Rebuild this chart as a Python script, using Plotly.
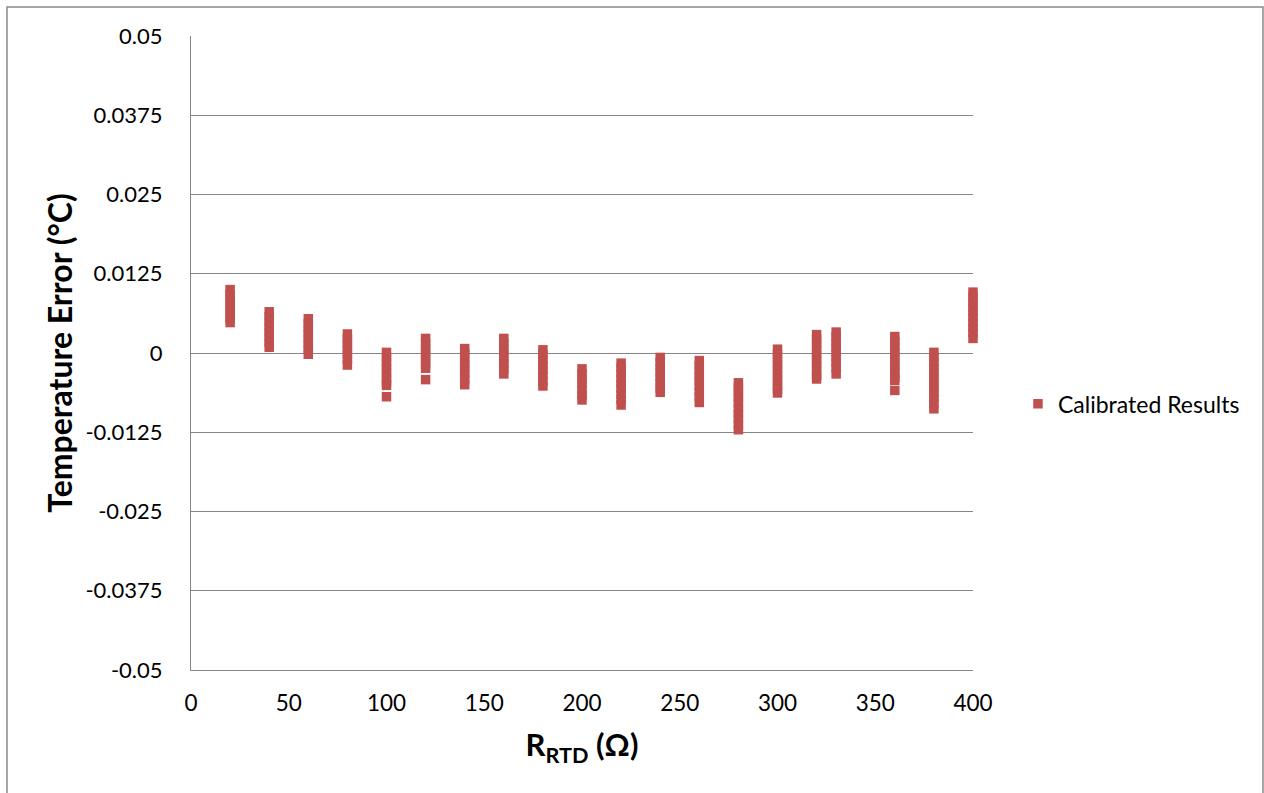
import plotly.graph_objects as go

# Calibrated results: temperature error (°C) per RTD resistance (Ω)
r_values = [20, 40, 60, 80, 100, 120, 140, 160, 180, 200, 220, 240, 260, 280, 300, 320, 330, 360, 380, 400]

err_20 = [0.0100, 0.0092, 0.0085, 0.0077, 0.0070, 0.0062, 0.0055, 0.0048]
err_40 = [0.0065, 0.0057, 0.0049, 0.0041, 0.0033, 0.0025, 0.0017, 0.0009]
err_60 = [0.0054, 0.0046, 0.0038, 0.0030, 0.0022, 0.0014, 0.0006, -0.0002]
err_80 = [0.0030, 0.0022, 0.0014, 0.0006, -0.0002, -0.0010, -0.0019]
err_100 = [0.0001, -0.0007, -0.0015, -0.0023, -0.0031, -0.0039, -0.0046, -0.0051, -0.0069]
err_120 = [0.0023, 0.0015, 0.0007, -0.0001, -0.0009, -0.0017, -0.0024, -0.0042]
err_140 = [0.0007, -0.0001, -0.0009, -0.0017, -0.0025, -0.0033, -0.0041, -0.0050]
err_160 = [0.0023, 0.0015, 0.0007, -0.0001, -0.0009, -0.0017, -0.0025, -0.0033]
err_180 = [0.0005, -0.0003, -0.0011, -0.0019, -0.0027, -0.0035, -0.0044, -0.0052]
err_200 = [-0.0025, -0.0033, -0.0041, -0.0049, -0.0058, -0.0066, -0.0074]
err_220 = [-0.0016, -0.0024, -0.0032, -0.0040, -0.0048, -0.0056, -0.0065, -0.0073, -0.0082]
err_240 = [-0.0007, -0.0015, -0.0023, -0.0031, -0.0039, -0.0047, -0.0055, -0.0062]
err_260 = [-0.0012, -0.0020, -0.0028, -0.0036, -0.0044, -0.0052, -0.0061, -0.0069, -0.0078]
err_280 = [-0.0047, -0.0055, -0.0063, -0.0071, -0.0079, -0.0088, -0.0096, -0.0104, -0.0113, -0.0121]
err_300 = [0.0006, -0.0002, -0.0010, -0.0018, -0.0026, -0.0034, -0.0042, -0.0050, -0.0057, -0.0063]
err_320 = [0.0029, 0.0021, 0.0013, 0.0005, -0.0003, -0.0011, -0.0019, -0.0027, -0.0035, -0.0041]
err_330 = [0.0033, 0.0025, 0.0017, 0.0009, 0.0001, -0.0007, -0.0015, -0.0023, -0.0033]
err_360 = [0.0026, 0.0018, 0.0010, 0.0002, -0.0006, -0.0014, -0.0022, -0.0030, -0.0038, -0.0043, -0.0059]
err_380 = [0.0001, -0.0007, -0.0015, -0.0023, -0.0031, -0.0039, -0.0047, -0.0055, -0.0063, -0.0071, -0.0080, -0.0088]
err_400 = [0.0096, 0.0088, 0.0080, 0.0072, 0.0064, 0.0056, 0.0048, 0.0040, 0.0032, 0.0023]

errors = [err_20, err_40, err_60, err_80, err_100, err_120, err_140, err_160, err_180, err_200,
          err_220, err_240, err_260, err_280, err_300, err_320, err_330, err_360, err_380, err_400]

y_ticks = [0.05, 0.0375, 0.025, 0.0125, 0, -0.0125, -0.025, -0.0375, -0.05]
y_tick_text = ["0.05", "0.0375", "0.025", "0.0125", "0", "-0.0125", "-0.025", "-0.0375", "-0.05"]
x_ticks = [0, 50, 100, 150, 200, 250, 300, 350, 400]

xs, ys = [], []
for r, errs in zip(r_values, errors):
    for e in errs:
        xs.append(r)
        ys.append(e)

FONT = "Lato"
GRID = "#868686"
RED = "#C0504D"

fig = go.Figure()
fig.add_trace(go.Scatter(
    x=xs, y=ys, mode="markers", name="Calibrated Results", cliponaxis=False,
    marker=dict(symbol="square", size=9.5, color=RED, line=dict(width=0)),
))

fig.update_layout(
    width=1264, height=793,
    margin=dict(l=191, r=291, t=36, b=123),
    paper_bgcolor="white", plot_bgcolor="white",
    font=dict(family=FONT, size=22, color="black"),
    showlegend=True,
    legend=dict(x=1.0575, y=0.42, xanchor="left", yanchor="middle",
                font=dict(family=FONT, size=23, color="black"),
                bgcolor="rgba(0,0,0,0)", itemwidth=30),
    xaxis=dict(
        range=[0, 400], tickvals=x_ticks, showgrid=False, zeroline=False,
        showline=True, linecolor=GRID, linewidth=1, ticks="",
        ticklabelstandoff=13,
        tickfont=dict(family=FONT, size=22.5, color="black"),
        title=dict(text="<b>R<sub>RTD</sub> (Ω)</b>", font=dict(family=FONT, size=31, color="black"),
                   standoff=19),
    ),
    yaxis=dict(
        range=[-0.05, 0.05], tickvals=y_ticks, ticktext=y_tick_text,
        showgrid=True, gridcolor=GRID, gridwidth=1, zeroline=False,
        showline=True, linecolor=GRID, linewidth=1, ticks="",
        ticklabelstandoff=23,
        tickfont=dict(family=FONT, size=22, color="black"),
        title=dict(text="<b>Temperature Error (°C)</b>", font=dict(family=FONT, size=32, color="black"),
                   standoff=3),
    ),
)

# outer chart-area border
fig.add_shape(type="rect", xref="paper", yref="paper",
              x0=(7 - 191) / 782, x1=(1263 - 191) / 782,
              y0=(670 - 805) / 634, y1=(670 - 7) / 634,
              line=dict(color="#898989", width=1.5), fillcolor="rgba(0,0,0,0)", layer="below")

fig.write_html("out.html")
